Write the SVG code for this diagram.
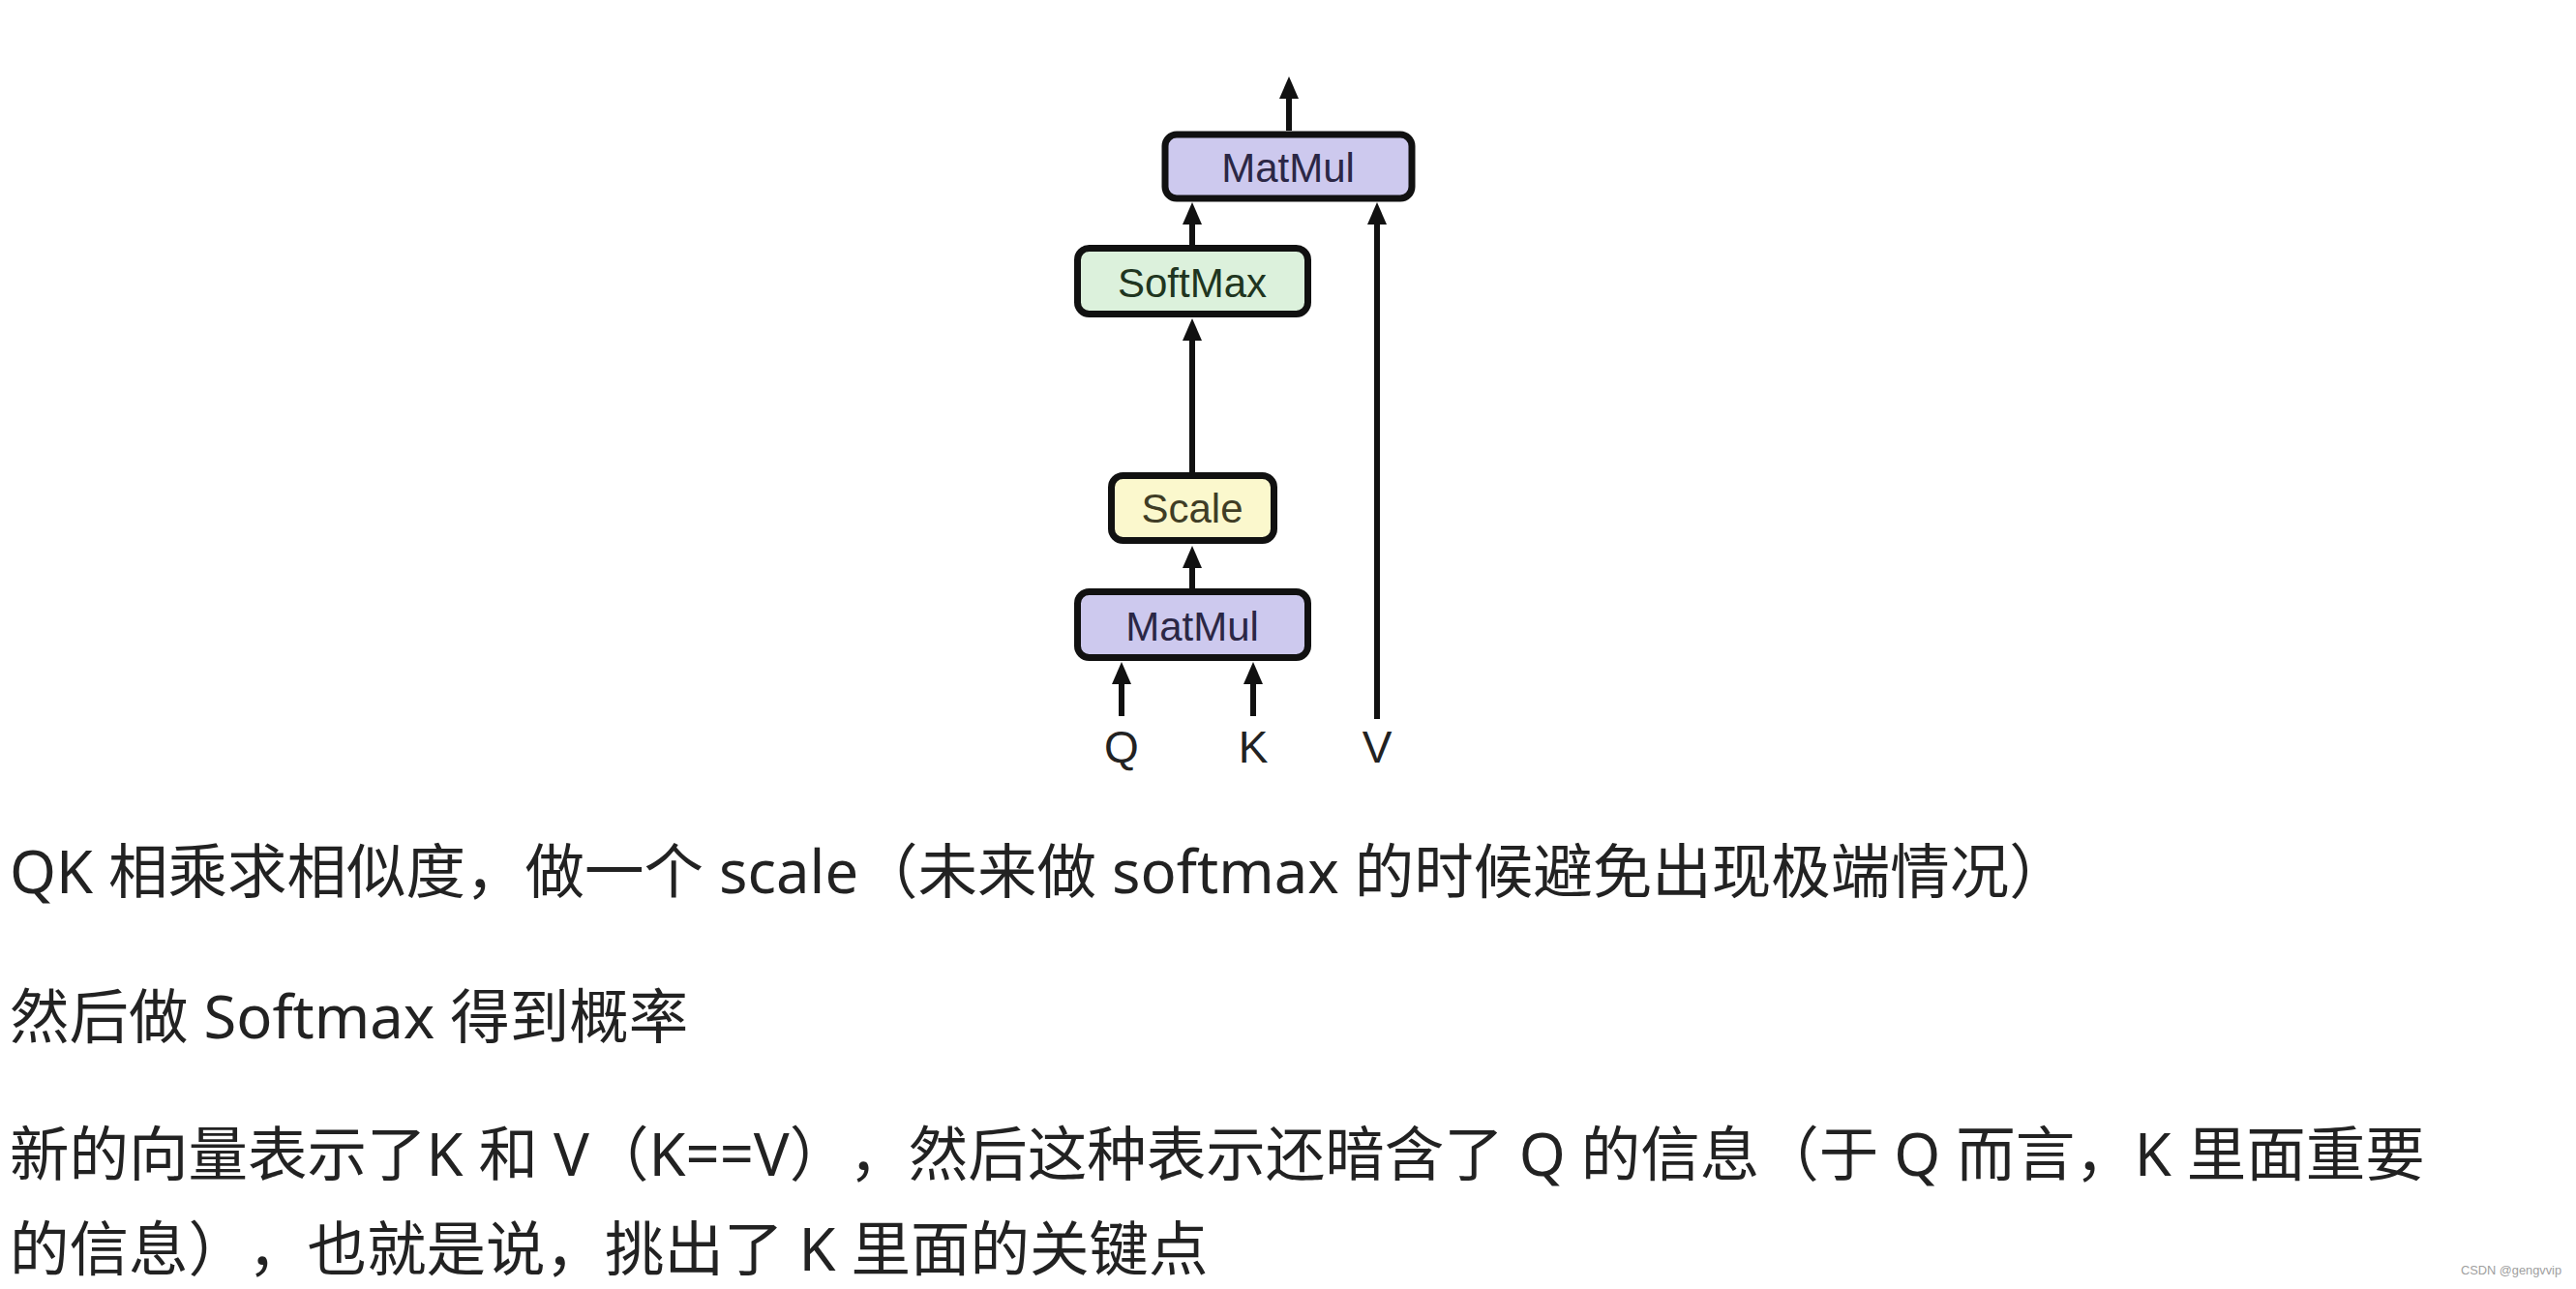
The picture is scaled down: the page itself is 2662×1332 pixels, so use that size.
<svg xmlns="http://www.w3.org/2000/svg" width="2662" height="1332" viewBox="0 0 2662 1332">
<style>
.box{stroke:#111;stroke-width:7}
.mm{fill:#cdc9ee}
.sm{fill:#dcf1dc}
.sc{fill:#fbf8cd}
.lbl{font-family:"Liberation Sans",Arial,sans-serif;font-size:42px;text-anchor:middle}
.io{font-family:"Liberation Sans",Arial,sans-serif;font-size:46px;text-anchor:middle;fill:#222}
.edge{stroke:#111;stroke-width:6;fill:none;marker-end:url(#ah)}
.body{font-family:"Noto Sans","Noto Sans CJK SC",sans-serif;font-size:61.5px;fill:#222;text-spacing-trim:space-all}
</style>
<defs>
<marker id="ah" markerUnits="userSpaceOnUse" markerWidth="24" markerHeight="22" refX="12" refY="10" orient="auto">
<path d="M0,0 L23,10 L0,20 z" fill="#111"/>
</marker>
</defs>
<rect width="2662" height="1332" fill="#fff"/>
<g id="connectors">
<path class="edge" d="M1332,135 V90"/>
<path class="edge" d="M1232,253 V220"/>
<path class="edge" d="M1423,743 V220"/>
<path class="edge" d="M1232,488 V340"/>
<path class="edge" d="M1232,608 V575"/>
<path class="edge" d="M1159,740 V695"/>
<path class="edge" d="M1295,740 V695"/>
</g>
<g id="matmul-top">
<rect class="box mm" x="1204" y="139" width="255" height="66" rx="12"/>
<text class="lbl" x="1331" y="188" fill="#2b2745">MatMul</text>
</g>
<g id="softmax">
<rect class="box sm" x="1113.5" y="256.5" width="238" height="68" rx="12"/>
<text class="lbl" x="1232" y="307" fill="#203520">SoftMax</text>
</g>
<g id="scale">
<rect class="box sc" x="1148.5" y="491.5" width="168" height="67" rx="12"/>
<text class="lbl" x="1232" y="540" fill="#403d25">Scale</text>
</g>
<g id="matmul-bottom">
<rect class="box mm" x="1113.5" y="611.5" width="238" height="68" rx="12"/>
<text class="lbl" x="1232" y="662" fill="#2b2745">MatMul</text>
</g>
<g id="inputs">
<text class="io" x="1159" y="788">Q</text>
<text class="io" x="1295" y="788">K</text>
<text class="io" x="1423" y="788">V</text>
</g>
<g id="notes">
<text class="body" x="10" y="923">QK 相乘求相似度，做一个 scale（未来做 softmax 的时候避免出现极端情况）</text>
<text class="body" x="10" y="1073">然后做 Softmax 得到概率</text>
<text class="body" x="10" y="1215">新的向量表示了K 和 V（K==V），然后这种表示还暗含了 Q 的信息（于 Q 而言，K 里面重要</text>
<text class="body" x="10" y="1313">的信息），也就是说，挑出了 K 里面的关键点</text>
</g>
<text x="2543" y="1317" font-family="Liberation Sans,Arial,sans-serif" font-size="13" fill="#a0a0a0" textLength="104" lengthAdjust="spacingAndGlyphs">CSDN @gengvvip</text>
</svg>
